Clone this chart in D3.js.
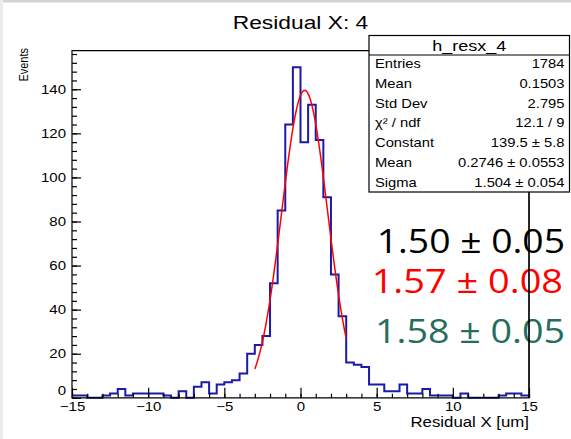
<!DOCTYPE html>
<html><head><meta charset="utf-8">
<script src="https://cdn.jsdelivr.net/npm/d3@7"></script>
<style>body{margin:0;background:#fff} svg{display:block}</style>
</head><body>
<svg id="c" width="571" height="439"></svg>
<script>
// ---------- data ----------
const title = "Residual X: 4";
const xTitle = "Residual X [um]";
const yTitle = "Events";
const binLow = -15, binWidth = 0.5;
const counts = [1,1,0,0, 1,2,4,1, 2,2,2,2, 1,0,3,0, 5,7,2,6, 7,8,11,20, 24,28,52,85,
                124,150,116,133, 117,91,56,37, 16,15,14,6, 6,3,3,6, 2,2,4,1, 1,1,0,2,
                0,0,0,0, 1,2,2,1];
const xTicks = [-15,-10,-5,0,5,10,15];
const yTicks = [0,20,40,60,80,100,120,140];
const fitConstant = 139.5, fitMean = 0.2746, fitSigma = 1.504;
const fitRange = [-3, 3];
const statsName = "h_resx_4";
const statsLabels = ["Entries","Mean","Std Dev","\u03C7\u00B2 / ndf","Constant","Mean","Sigma"];
const statsValues = ["1784","0.1503","2.795","12.1 / 9","139.5 \u00B1 5.8","0.2746 \u00B1 0.0553","1.504 \u00B1 0.054"];
const notes = ["1.50 \u00B1 0.05","1.57 \u00B1 0.08","1.58 \u00B1 0.05"];
const noteColors = ["#000000","#ff0000","#266e5a"];

// ---------- layout ----------
const SX = 1.2; // horizontal stretch of glyphs in the reference
const L = 72, R = 529, T = 50.7, B = 397.8;
const svg = d3.select("#c");
svg.append("rect").attr("width",571).attr("height",439).attr("fill","#fff");
svg.append("rect").attr("x",0).attr("y",0).attr("width",571).attr("height",2.5).attr("fill","#d4d4d4");
svg.append("rect").attr("x",0).attr("y",0).attr("width",3).attr("height",439).attr("fill","#ececec");

const x = d3.scaleLinear().domain([-15,15]).range([L,R]);
const y = d3.scaleLinear().domain([0,157.5]).range([B,T]);

const FONT = "'Liberation Sans', Arial, Helvetica, sans-serif";
function stext(x0, y0, str, size, anchor, fill, fam) {
  return svg.append("text")
    .attr("transform", `translate(${x0},${y0}) scale(${SX},1)`)
    .attr("text-anchor", anchor).attr("fill", fill || "#000")
    .style("font-family", fam || FONT).style("font-size", size + "px")
    .text(str);
}

// title
stext(300.5, 28.5, title, 19, "middle");

// histogram
const pts = [];
counts.forEach((c,i) => {
  const x0 = binLow + i*binWidth, x1 = x0 + binWidth;
  pts.push([x(x0), y(c)], [x(x1), y(c)]);
});
svg.append("path").attr("d", d3.line()(pts))
  .attr("fill","none").attr("stroke","#1a1aa8").attr("stroke-width",2);

// fit curve
const fx = d3.range(fitRange[0], fitRange[1] + 1e-9, 0.02);
svg.append("path")
  .attr("d", d3.line().x(d => x(d)).y(d => y(fitConstant*Math.exp(-0.5*Math.pow((d-fitMean)/fitSigma,2))))(fx))
  .attr("fill","none").attr("stroke","#ff0000").attr("stroke-width",1.5);

// axes
const ax = svg.append("g").attr("transform",`translate(0,${B})`);
ax.call(d3.axisBottom(x).tickValues(d3.range(-15,16,1)).tickSize(-4).tickFormat(""));
ax.call(g => g.select(".domain").remove());
const ax2 = svg.append("g").attr("transform",`translate(0,${B})`);
ax2.call(d3.axisBottom(x).tickValues(xTicks).tickSize(-10).tickPadding(4.5));
ax2.select(".domain").remove();
ax2.selectAll("text").attr("transform",`scale(${SX},1)`).style("font-family",FONT).style("font-size","12.5px").attr("fill","#000");

const ay = svg.append("g").attr("transform",`translate(${L},0)`);
ay.call(d3.axisLeft(y).tickValues(d3.range(0,157,4)).tickSize(-5).tickFormat(""));
ay.select(".domain").remove();
const ay2 = svg.append("g").attr("transform",`translate(${L},0)`);
ay2.call(d3.axisLeft(y).tickValues(yTicks).tickSize(-9).tickPadding(5));
ay2.select(".domain").remove();
ay2.selectAll("text").attr("transform",`scale(${SX},1)`).style("font-family",FONT).style("font-size","12.5px").attr("fill","#000");
// the zero label sits a little higher, as in the reference
ay2.selectAll("text").filter(d => d === 0).attr("dy","-0.25em");
svg.selectAll(".tick line").attr("stroke","#000").attr("stroke-width",1.2);

// axis titles
stext(529, 427, xTitle, 14, "end");
svg.append("text")
  .attr("transform", `translate(28,48) rotate(-90) scale(1,${SX})`)
  .attr("text-anchor","end").style("font-family",FONT).style("font-size","11px")
  .text(yTitle);

// big annotation texts
const noteY = [253.3, 293.3, 342.7];
const noteX = [[376.7,565],[371.7,563],[375,565]];
notes.forEach((s,i) => {
  svg.append("text").attr("x", noteX[i][0]).attr("y", noteY[i])
    .attr("textLength", noteX[i][1]-noteX[i][0]).attr("lengthAdjust","spacingAndGlyphs")
    .attr("fill", noteColors[i])
    .style("font-family","'Open Sans', Lato, sans-serif").style("font-weight","400").style("font-size","32px")
    .text(s);
});

// frame
svg.append("path").attr("d", `M${L},${B}V${T}H${R}V${B}Z`)
  .attr("fill","none").attr("stroke","#000").attr("stroke-width",1.2);

// stats box
const bx = 369, by = 35.5, bw = 200.5, bh = 156.5;
svg.append("rect").attr("x",bx).attr("y",by).attr("width",bw).attr("height",bh)
  .attr("fill","#fff").attr("stroke","#000").attr("stroke-width",1.2);
svg.append("line").attr("x1",bx).attr("x2",bx+bw).attr("y1",55).attr("y2",55)
  .attr("stroke","#000").attr("stroke-width",1.2);
stext(bx+bw/2, 51, statsName, 15, "middle");
statsLabels.forEach((lab,i) => {
  const yy = 68 + i*19.8;
  stext(375, yy, lab, 12.3, "start");
  stext(564.5, yy, statsValues[i], 12.3, "end");
});
// frame right edge continues below the stats box (drawn over the notes)
svg.append("line").attr("x1",R).attr("x2",R).attr("y1",by+bh).attr("y2",B)
  .attr("stroke","#000").attr("stroke-width",1.2);
</script>
</body></html>
